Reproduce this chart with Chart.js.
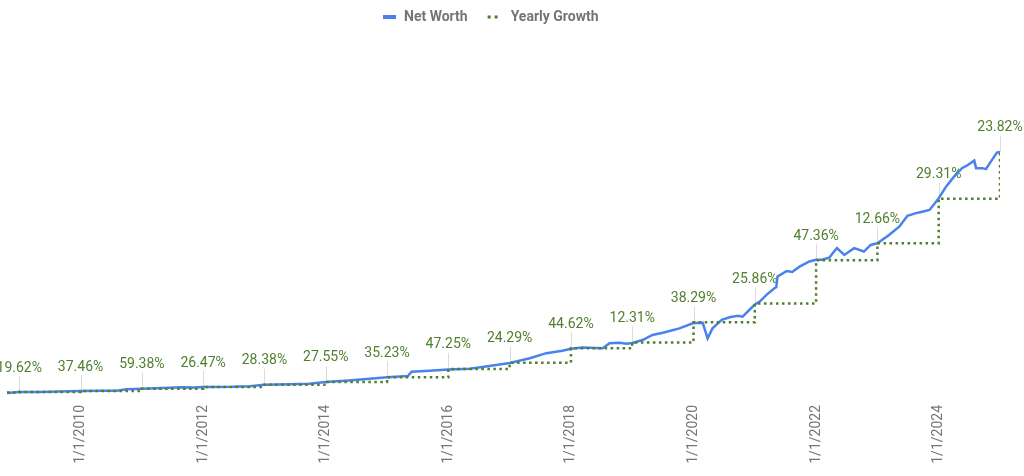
<!DOCTYPE html>
<html>
<head>
<meta charset="utf-8">
<script src="https://cdn.jsdelivr.net/npm/chart.js@4.4.1/dist/chart.umd.min.js"></script>
<style>
  html, body { margin: 0; padding: 0; background: #fff; }
  #wrap { width: 1024px; height: 476px; }
</style>
</head>
<body>
<div id="wrap"><canvas id="chart" width="1024" height="476"></canvas></div>
<script>
// net worth, in thousands, dates as decimal years
const netWorthDates = [2008.8, 2009.0, 2009.33, 2009.66, 2010.0, 2010.31, 2010.59, 2010.75, 2011.0, 2011.34,
  2011.66, 2011.86, 2012.0, 2012.48, 2012.76, 2013.0, 2013.41, 2013.73, 2014.0, 2014.38,
  2015.0, 2015.34, 2015.4, 2015.69, 2016.0, 2016.35, 2016.67, 2017.0, 2017.33, 2017.6,
  2017.86, 2018.0, 2018.19, 2018.52, 2018.63, 2018.79, 2018.91, 2019.0, 2019.17, 2019.33,
  2019.5, 2019.64, 2019.77, 2020.0, 2020.15, 2020.23, 2020.31, 2020.46, 2020.59, 2020.72,
  2020.8, 2021.0, 2021.08, 2021.19, 2021.32, 2021.35, 2021.37, 2021.52, 2021.61, 2021.73,
  2021.89, 2022.0, 2022.1, 2022.22, 2022.26, 2022.34, 2022.46, 2022.62, 2022.78, 2022.89,
  2023.0, 2023.19, 2023.36, 2023.49, 2023.63, 2023.73, 2023.85, 2023.96, 2024.0, 2024.12,
  2024.25, 2024.38, 2024.45, 2024.58, 2024.61, 2024.71, 2024.77, 2024.87, 2024.95, 2025.0];
const netWorthValues = [8, 11.9, 12.5, 14, 16.3, 17, 17.5, 24, 26, 28.5,
  32, 30.5, 32.9, 33.5, 36, 42.2, 44, 46, 53.8, 60,
  72.7, 78, 96, 100, 105, 108, 119, 132, 151, 172,
  182, 190, 195, 192, 213, 215, 211, 214, 226, 247,
  256, 265, 274, 296, 297, 233, 274, 309, 320, 326,
  322, 372, 384, 412, 439, 443, 487, 510, 506, 528,
  549, 556, 556, 566, 580, 604, 576, 604, 590, 617,
  624, 658, 693, 737, 748, 754, 761, 796, 809, 857,
  898, 933, 942, 964, 933, 933, 929, 967, 997, 1000];

// yearly growth steps (value at 1/1 of each year)
const stepDates = [2008.8, 2009, 2010, 2011, 2012, 2013, 2014, 2015, 2016, 2017,
  2018, 2019, 2020, 2021, 2022, 2023, 2024, 2025];
const stepValues = [10, 11.9, 16.3, 26.0, 32.9, 42.2, 53.8, 72.7, 107.1, 133.1,
  192.4, 216, 298.9, 376.2, 554.4, 624.6, 807.6, 1000];
const growthLabels = ['', '19.62%', '37.46%', '59.38%', '26.47%', '28.38%', '27.55%', '35.23%', '47.25%', '24.29%',
  '44.62%', '12.31%', '38.29%', '25.86%', '47.36%', '12.66%', '29.31%', '23.82%'];

const tickYears = [2010, 2012, 2014, 2016, 2018, 2020, 2022, 2024];

const BLUE = '#4a82ec';
const GREEN = '#4f7f2c';
const FONT = 'Roboto, "Noto Sans", sans-serif';

const growthLabelsPlugin = {
  id: 'growthLabels',
  beforeDatasetsDraw(chart) {
    const meta = chart.getDatasetMeta(1);
    const ctx = chart.ctx;
    ctx.save();
    ctx.font = '14px ' + FONT;
    ctx.textAlign = 'center';
    ctx.textBaseline = 'middle';
    meta.data.forEach((pt, i) => {
      const text = growthLabels[i];
      if (!text) return;
      const x = Math.round(pt.x) + 0.5;
      ctx.strokeStyle = '#dcdcdc';
      ctx.lineWidth = 1;
      ctx.beginPath();
      ctx.moveTo(x, pt.y - 16);
      ctx.lineTo(x, pt.y);
      ctx.stroke();
      ctx.fillStyle = GREEN;
      ctx.fillText(text, pt.x, pt.y - 24);
    });
    ctx.restore();
  }
};

const legendPlugin = {
  id: 'sheetLegend',
  afterDraw(chart) {
    const ctx = chart.ctx;
    ctx.save();
    ctx.font = 'bold 14px ' + FONT;
    ctx.textBaseline = 'middle';
    ctx.textAlign = 'left';
    const y = 17;
    let x = 383;
    ctx.fillStyle = BLUE;
    ctx.fillRect(x, y - 2, 13, 4);
    x += 21;
    ctx.fillStyle = '#757575';
    ctx.fillText('Net Worth', x, y);
    x += ctx.measureText('Net Worth').width + 20;
    ctx.fillStyle = GREEN;
    ctx.fillRect(x, y - 1.5, 3, 3);
    ctx.fillRect(x + 7, y - 1.5, 3, 3);
    x += 23;
    ctx.fillStyle = '#757575';
    ctx.fillText('Yearly Growth', x, y);
    ctx.restore();
  }
};

new Chart(document.getElementById('chart'), {
  type: 'line',
  data: {
    datasets: [{
      label: 'Net Worth',
      data: netWorthDates.map((d, i) => ({ x: d, y: netWorthValues[i] })),
      borderColor: BLUE,
      backgroundColor: BLUE,
      borderWidth: 2.5,
      pointRadius: 0,
      tension: 0,
      order: 1
    }, {
      label: 'Yearly Growth',
      data: stepDates.map((d, i) => ({ x: d, y: stepValues[i] })),
      borderColor: GREEN,
      backgroundColor: GREEN,
      borderWidth: 2.5,
      borderDash: [2.5, 3.5],
      stepped: true,
      pointRadius: 0,
      order: 0
    }]
  },
  options: {
    responsive: false,
    animation: false,
    layout: { padding: { top: 40, left: 7, right: 24, bottom: 0 } },
    plugins: {
      legend: { display: false },
      tooltip: { enabled: false }
    },
    scales: {
      x: {
        type: 'linear',
        min: 2008.8,
        max: 2025,
        grid: { display: false, drawTicks: false },
        border: { display: false },
        afterBuildTicks: axis => { axis.ticks = tickYears.map(v => ({ value: v })); },
        afterFit: axis => { axis.height = 81; },
        ticks: {
          autoSkip: false,
          minRotation: 90,
          maxRotation: 90,
          padding: 10,
          color: '#757575',
          font: { size: 14, family: FONT },
          callback: v => '1/1/' + v
        }
      },
      y: {
        display: false,
        min: 0,
        max: 1460
      }
    }
  },
  plugins: [growthLabelsPlugin, legendPlugin]
});
</script>
</body>
</html>
